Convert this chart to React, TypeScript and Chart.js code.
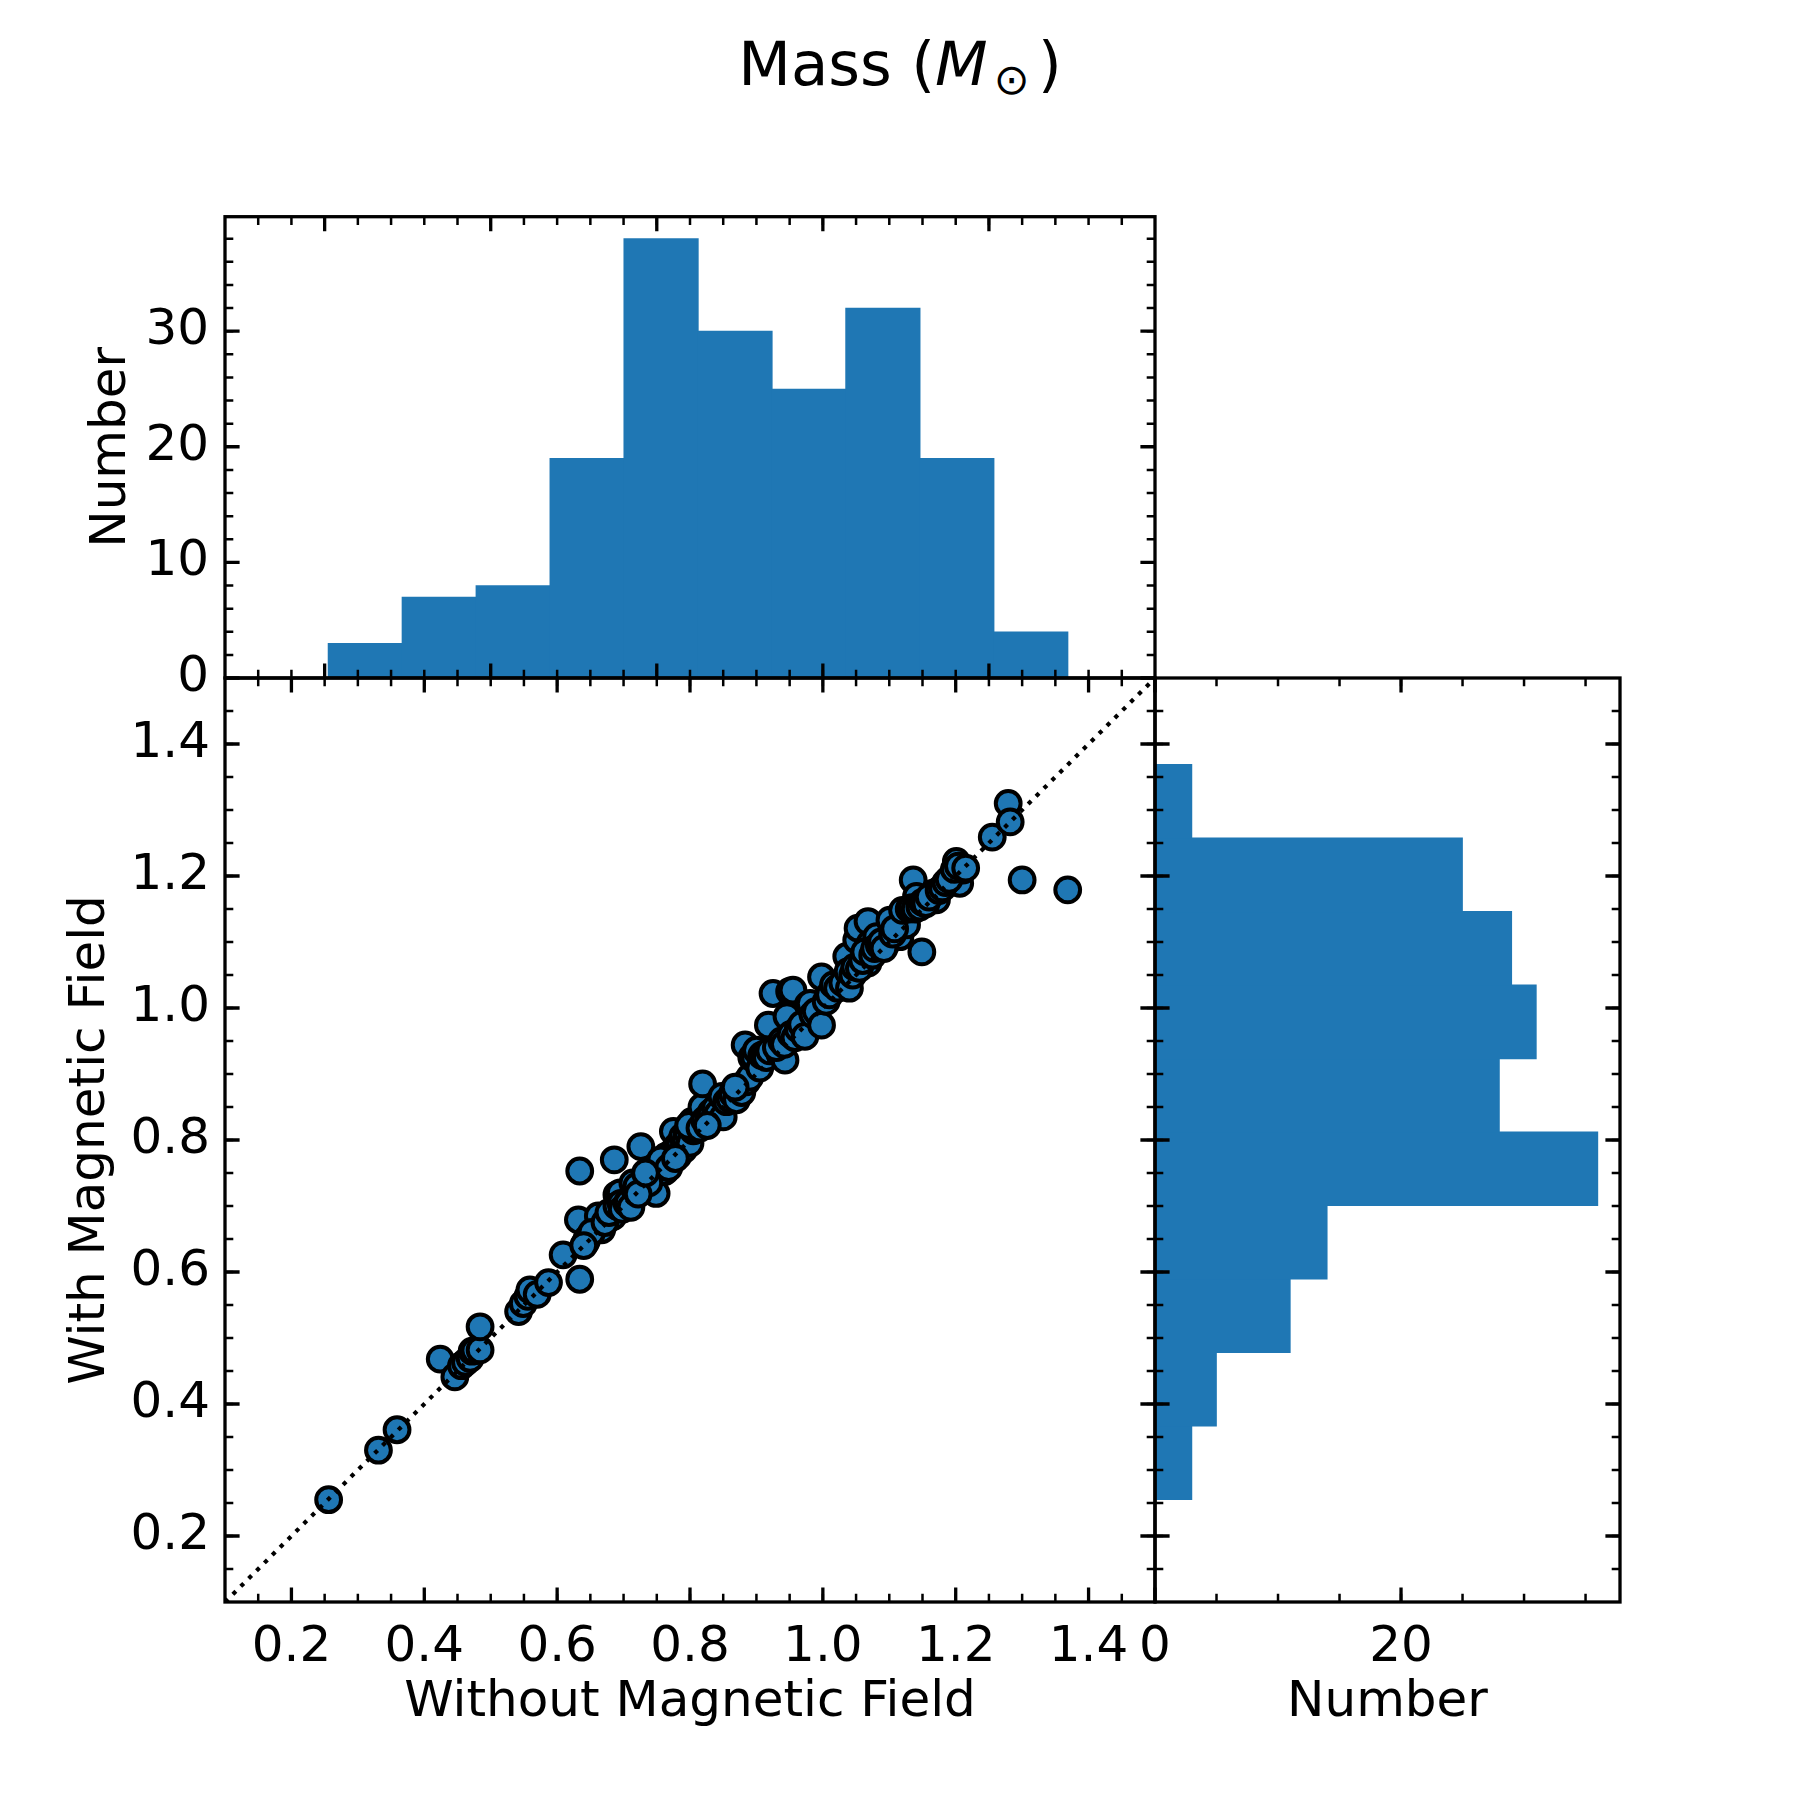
import React, { useEffect, useRef } from 'react';
import Chart from 'chart.js/auto';

const BLUE = '#1f77b4';
const FONT = 'DejaVu Sans';

// bin edges shared by both marginal histograms
const binEdges = [0.2556, 0.3669, 0.4782, 0.5895, 0.7008, 0.8121, 0.9234, 1.0347, 1.146, 1.2573, 1.3686];
const countsWithout = [3, 7, 8, 19, 38, 30, 25, 32, 19, 4];
const countsWith = [3, 5, 11, 14, 36, 28, 31, 29, 25, 3];

// scatter: mass without / with magnetic field (M_sun)
const massWithout = [
  0.256, 0.331, 0.359,
  0.424, 0.446, 0.456, 0.462, 0.469, 0.472, 0.476,
  0.484, 0.484, 0.542, 0.549, 0.556, 0.559, 0.570, 0.587,
  0.609, 0.634, 0.643, 0.632, 0.634, 0.662, 0.667, 0.684, 0.686, 0.690, 0.695, 0.645, 0.652, 0.672, 0.678, 0.690, 0.696, 0.698, 0.640,
  0.705, 0.707, 0.714, 0.718, 0.726, 0.730, 0.735, 0.741, 0.749, 0.745, 0.752, 0.759, 0.764, 0.762, 0.770, 0.775, 0.772, 0.780, 0.782,
  0.785, 0.789, 0.790, 0.794, 0.796, 0.800, 0.803, 0.805, 0.808, 0.810, 0.711, 0.720, 0.738, 0.756, 0.768, 0.778, 0.798, 0.722, 0.733,
  0.818, 0.819, 0.815, 0.822, 0.828, 0.832, 0.838, 0.842, 0.848, 0.850, 0.855, 0.860, 0.864, 0.870, 0.875, 0.878, 0.883, 0.885, 0.890,
  0.893, 0.897, 0.900, 0.905, 0.908, 0.912, 0.915, 0.918, 0.920, 0.826, 0.868,
  0.925, 0.935, 0.943, 0.946, 0.950, 0.955, 0.930, 0.938, 0.942, 0.952, 0.958, 0.963, 0.968, 0.973, 0.978, 0.981, 0.985, 0.990, 0.998,
  0.998, 1.005, 1.010, 1.016, 1.022, 1.030,
  1.036, 1.038, 1.051, 1.053, 1.068, 1.071, 1.068, 1.081, 1.096, 1.101, 1.111, 1.116, 1.126, 1.136, 1.141, 1.040, 1.045, 1.048, 1.055,
  1.060, 1.063, 1.075, 1.078, 1.085, 1.088, 1.092, 1.105, 1.108, 1.120, 1.130, 1.134, 1.139,
  1.146, 1.149, 1.166, 1.171, 1.196, 1.201, 1.206, 1.211, 1.150, 1.155, 1.160, 1.175, 1.180, 1.185, 1.190, 1.198, 1.204, 1.215, 1.255,
  1.279, 1.282, 1.300, 1.3686,
];
const massWith = [
  0.255, 0.330, 0.361,
  0.468, 0.441, 0.458, 0.463, 0.469, 0.480, 0.481,
  0.482, 0.517, 0.540, 0.552, 0.563, 0.573, 0.566, 0.584,
  0.626, 0.589, 0.645, 0.679, 0.753, 0.685, 0.664, 0.684, 0.770, 0.717, 0.720, 0.650, 0.660, 0.675, 0.690, 0.700, 0.704, 0.695, 0.640,
  0.704, 0.705, 0.735, 0.722, 0.790, 0.728, 0.742, 0.755, 0.719, 0.748, 0.762, 0.760, 0.775, 0.752, 0.768, 0.813, 0.780, 0.790, 0.776,
  0.795, 0.805, 0.785, 0.800, 0.812, 0.795, 0.828, 0.814, 0.815, 0.818, 0.698, 0.730, 0.735, 0.770, 0.758, 0.772, 0.822, 0.718, 0.750,
  0.850, 0.885, 0.818, 0.830, 0.835, 0.842, 0.848, 0.840, 0.866, 0.835, 0.858, 0.862, 0.870, 0.861, 0.881, 0.872, 0.944, 0.888, 0.895,
  0.925, 0.926, 0.936, 0.909, 0.928, 0.930, 0.925, 0.974, 0.935, 0.822, 0.880,
  1.022, 0.931, 0.921, 0.987, 1.025, 1.027, 0.940, 0.950, 0.945, 0.960, 0.955, 0.968, 0.975, 0.957, 1.005, 1.007, 0.990, 0.995, 0.974,
  1.047, 1.010, 1.020, 1.035, 1.030, 1.038,
  1.078, 1.055, 1.103, 1.121, 1.131, 1.098, 1.068, 1.108, 1.098, 1.133, 1.116, 1.108, 1.126, 1.194, 1.169, 1.030, 1.050, 1.062, 1.060,
  1.072, 1.085, 1.080, 1.090, 1.095, 1.100, 1.090, 1.112, 1.120, 1.148, 1.150, 1.152, 1.150,
  1.153, 1.085, 1.174, 1.164, 1.199, 1.222, 1.189, 1.209, 1.160, 1.158, 1.168, 1.178, 1.182, 1.190, 1.195, 1.210, 1.215, 1.212, 1.259,
  1.310, 1.282, 1.194, 1.179,
];

const massTicks = [0.2, 0.4, 0.6, 0.8, 1.0, 1.2, 1.4];
const topHistXTicks = [0.25, 0.5, 0.75, 1.0, 1.25];
const topHistYTicks = [0, 10, 20, 30];
const sideHistXTicks = [0, 20];

const binCenters = binEdges.slice(0, -1).map((e, i) => (e + binEdges[i + 1]) / 2);

const minorTicks = (lo: number, hi: number, step: number) => {
  const out: number[] = [];
  for (let k = Math.ceil(lo / step - 1e-6); k * step <= hi + 1e-9; k++) {
    const v = k * step;
    if (v > lo + 1e-6 && v < hi - 1e-6) out.push(v);
  }
  return out;
};

type TickSpec = { xMajor: number[]; xMinor: number[]; yMajor: number[]; yMinor: number[] };

// matplotlib-like box with inward ticks on all four sides
const frame = (spec: TickSpec) => ({
  id: 'frame',
  afterDraw(chart: any) {
    const { ctx, chartArea: a, scales } = chart;
    const draw = (vals: number[], len: number, w: number, horiz: boolean) => {
      ctx.lineWidth = w;
      ctx.beginPath();
      vals.forEach((v) => {
        if (horiz) {
          const p = scales.x.getPixelForValue(v);
          if (p < a.left - 1 || p > a.right + 1) return;
          ctx.moveTo(p, a.bottom);
          ctx.lineTo(p, a.bottom - len);
          ctx.moveTo(p, a.top);
          ctx.lineTo(p, a.top + len);
        } else {
          const p = scales.y.getPixelForValue(v);
          if (p < a.top - 1 || p > a.bottom + 1) return;
          ctx.moveTo(a.left, p);
          ctx.lineTo(a.left + len, p);
          ctx.moveTo(a.right, p);
          ctx.lineTo(a.right - len, p);
        }
      });
      ctx.stroke();
    };
    ctx.save();
    ctx.strokeStyle = '#000';
    draw(spec.xMinor, 8.3, 2.5, true);
    draw(spec.yMinor, 8.3, 2.5, false);
    draw(spec.xMajor, 14.6, 3.3, true);
    draw(spec.yMajor, 14.6, 3.3, false);
    ctx.lineWidth = 3.3;
    ctx.strokeRect(a.left, a.top, a.right - a.left, a.bottom - a.top);
    ctx.restore();
  },
});

const tickFont = { family: FONT, size: 50 };
const labelFont = { family: FONT, size: 50 };

const fixedSize = (size: number) => (scale: any) => {
  if (scale.isHorizontal()) scale.height = size;
  else scale.width = size;
};
const setTicks = (vals: number[]) => (scale: any) => {
  scale.ticks = vals.map((value) => ({ value }));
};

const common = {
  responsive: false,
  animation: false as const,
  events: [],
  plugins: { legend: { display: false }, tooltip: { enabled: false } },
};

const App: React.FC = () => {
  const mainRef = useRef<HTMLCanvasElement | null>(null);
  const topRef = useRef<HTMLCanvasElement | null>(null);
  const sideRef = useRef<HTMLCanvasElement | null>(null);

  useEffect(() => {
    if (!mainRef.current || !topRef.current || !sideRef.current) return;
    Chart.defaults.font.family = FONT;
    Chart.defaults.color = '#000';

    const points = massWithout.map((x, i) => ({ x, y: massWith[i] }));
    const binW = binEdges[1] - binEdges[0];

    const main = new Chart(mainRef.current, {
      type: 'scatter',
      data: {
        datasets: [
          {
            type: 'line',
            data: [{ x: 0.1, y: 0.1 }, { x: 1.5, y: 1.5 }],
            borderColor: '#000',
            borderWidth: 4.2,
            borderDash: [4.2, 6.9],
            pointRadius: 0,
            fill: false,
          } as any,
          {
            type: 'scatter',
            data: points,
            backgroundColor: BLUE,
            borderColor: '#000',
            borderWidth: 4,
            pointRadius: 12.4,
            pointHoverRadius: 12.4,
          },
        ],
      },
      options: {
        ...common,
        layout: { padding: { left: 0, top: 678, right: 645, bottom: 0 } },
        scales: {
          x: {
            type: 'linear', min: 0.1, max: 1.5,
            grid: { display: false }, border: { display: false },
            afterBuildTicks: setTicks(massTicks), afterFit: fixedSize(198),
            ticks: { font: tickFont, color: '#000', padding: 8, maxRotation: 0, autoSkip: false,
              callback: (v: any) => Number(v).toFixed(1) },
            title: { display: true, text: 'Without Magnetic Field', font: labelFont, color: '#000', padding: { bottom: 67 } },
          },
          y: {
            type: 'linear', min: 0.1, max: 1.5,
            grid: { display: false }, border: { display: false },
            afterBuildTicks: setTicks(massTicks), afterFit: fixedSize(225),
            ticks: { font: tickFont, color: '#000', padding: 7, autoSkip: false,
              callback: (v: any) => Number(v).toFixed(1) },
            title: { display: true, text: 'With Magnetic Field', font: labelFont, color: '#000', padding: { top: 61 } },
          },
        },
      },
      plugins: [frame({ xMajor: massTicks, xMinor: minorTicks(0.1, 1.5, 0.05), yMajor: massTicks, yMinor: minorTicks(0.1, 1.5, 0.05) })],
    } as any);

    const top = new Chart(topRef.current, {
      type: 'bar',
      data: {
        datasets: [{
          data: binCenters.map((c, i) => ({ x: c, y: countsWithout[i] })),
          backgroundColor: BLUE,
          borderWidth: 0,
          barThickness: (binW / 1.4) * 930 + 0.6,
        }],
      },
      options: {
        ...common,
        layout: { padding: { left: 0, top: 216.7, right: 645, bottom: 0 } },
        scales: {
          x: {
            type: 'linear', min: 0.1, max: 1.5, offset: false,
            grid: { display: false, offset: false }, border: { display: false },
            ticks: { display: false }, afterFit: fixedSize(1122),
          },
          y: {
            type: 'linear', min: 0, max: 39.9,
            grid: { display: false }, border: { display: false },
            afterBuildTicks: setTicks(topHistYTicks), afterFit: fixedSize(225),
            ticks: { font: tickFont, color: '#000', padding: 8, autoSkip: false },
            title: { display: true, text: 'Number', font: labelFont, color: '#000', padding: { top: 82 } },
          },
        },
      },
      plugins: [frame({ xMajor: topHistXTicks, xMinor: minorTicks(0.1, 1.5, 0.05), yMajor: topHistYTicks, yMinor: minorTicks(0, 39.9, 2) })],
    } as any);

    const side = new Chart(sideRef.current, {
      type: 'bar',
      data: {
        datasets: [{
          data: binCenters.map((c, i) => ({ x: countsWith[i], y: c })),
          backgroundColor: BLUE,
          borderWidth: 0,
          barThickness: (binW / 1.4) * 924 + 0.6,
        }],
      },
      options: {
        ...common,
        indexAxis: 'y',
        layout: { padding: { left: 0, top: 678, right: 180, bottom: 0 } },
        scales: {
          x: {
            type: 'linear', min: 0, max: 37.8,
            grid: { display: false }, border: { display: false },
            afterBuildTicks: setTicks(sideHistXTicks), afterFit: fixedSize(198),
            ticks: { font: tickFont, color: '#000', padding: 8, maxRotation: 0, autoSkip: false },
            title: { display: true, text: 'Number', font: labelFont, color: '#000', padding: { bottom: 67 } },
          },
          y: {
            type: 'linear', min: 0.1, max: 1.5, offset: false,
            grid: { display: false, offset: false }, border: { display: false },
            ticks: { display: false }, afterFit: fixedSize(1155),
          },
        },
      },
      plugins: [frame({ xMajor: sideHistXTicks, xMinor: minorTicks(0, 37.8, 5), yMajor: massTicks, yMinor: minorTicks(0.1, 1.5, 0.05) })],
    } as any);

    return () => {
      main.destroy();
      top.destroy();
      side.destroy();
    };
  }, []);

  const canvasStyle: React.CSSProperties = { position: 'absolute', left: 0, top: 0 };

  return (
    <div style={{ position: 'absolute', left: 0, top: 0, width: 1800, height: 1800, background: '#fff' }}>
      <div
        style={{
          position: 'absolute', left: 0, top: 33, width: 1800, textAlign: 'center',
          fontFamily: FONT, fontSize: 61, lineHeight: 1, color: '#000',
        }}
      >
        Mass (<span style={{ fontStyle: 'italic' }}>M</span>
        <span style={{ fontSize: '0.7em', position: 'relative', top: '0.22em', marginLeft: '0.14em', marginRight: '0.2em' }}>⊙</span>)
      </div>
      <canvas ref={topRef} width={1800} height={1800} style={canvasStyle}></canvas>
      <canvas ref={sideRef} width={1800} height={1800} style={canvasStyle}></canvas>
      <canvas ref={mainRef} width={1800} height={1800} style={canvasStyle}></canvas>
    </div>
  );
};

export default App;
